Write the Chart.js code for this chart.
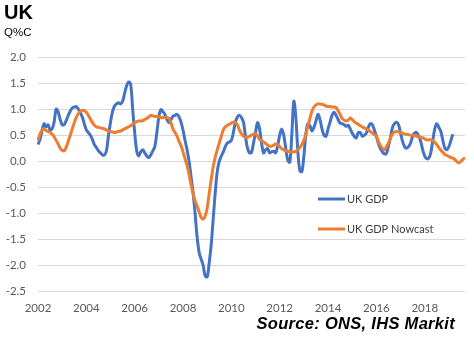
<!DOCTYPE html>
<html>
<head>
<meta charset="utf-8">
<script src="https://cdn.jsdelivr.net/npm/chart.js@4"></script>
<style>
  html, body { margin: 0; padding: 0; background: #fff; }
  #wrap { position: relative; width: 474px; height: 339px; overflow: hidden; }
  canvas { position: absolute; left: 0; top: 0; }
  .t { position: absolute; font-family: "Liberation Sans", Arial, sans-serif; white-space: nowrap; }
  #title { left: 4px; top: 1px; font-size: 20px; font-weight: bold; color: #000; }
  #sub { left: 4px; top: 26px; font-size: 11.5px; color: #000; }
  #src { right: 19px; top: 314px; font-size: 16.5px; font-weight: bold; font-style: italic; color: #000; letter-spacing: 0.3px; }
</style>
</head>
<body>
<div id="wrap">
  <canvas id="c" width="474" height="339"></canvas>
  <div class="t" id="title">UK</div>
  <div class="t" id="sub">Q%C</div>
  <div class="t" id="src">Source: ONS, IHS Markit</div>
</div>
<script>
// Monthly categories Jan 2002 .. Sep 2019
const years = [2002,2003,2004,2005,2006,2007,2008,2009,2010,2011,2012,2013,2014,2015,2016,2017,2018,2019];
const months = ["01","02","03","04","05","06","07","08","09","10","11","12"];
const categories = [];
years.forEach(y => months.forEach(m => { if (!(y === 2019 && +m > 9)) categories.push(y + "-" + m); }));

const yTicks = [2.0, 1.5, 1.0, 0.5, 0.0, -0.5, -1.0, -1.5, -2.0, -2.5];

const seriesNames = ["UK GDP", "UK GDP Nowcast"];

const ukGdp = [
 0.32,0.42,0.58,0.72,0.66,0.70,0.60,0.62,0.75,1.00,0.95,0.80,
 0.70,0.70,0.78,0.88,0.96,1.02,1.04,1.05,1.00,0.93,0.85,0.72,
 0.60,0.55,0.50,0.42,0.32,0.26,0.20,0.16,0.12,0.12,0.20,0.50,
 0.75,0.95,1.06,1.10,1.12,1.10,1.15,1.30,1.45,1.52,1.48,1.00,
 0.55,0.20,0.10,0.18,0.22,0.16,0.10,0.07,0.12,0.20,0.28,0.55,
 0.85,0.99,0.95,0.90,0.80,0.74,0.80,0.86,0.88,0.90,0.85,0.75,
 0.60,0.40,0.22,0.00,-0.30,-0.60,-1.00,-1.45,-1.75,-1.88,-2.00,-2.20,
 -2.22,-1.95,-1.60,-1.10,-0.60,-0.20,0.00,0.10,0.18,0.28,0.35,0.37,
 0.40,0.55,0.75,0.85,0.88,0.84,0.75,0.48,0.25,0.16,0.17,0.35,
 0.55,0.74,0.62,0.35,0.16,0.22,0.24,0.16,0.18,0.19,0.16,0.30,
 0.50,0.62,0.50,0.25,0.02,-0.02,0.50,1.15,0.85,0.20,-0.18,-0.20,
 0.10,0.52,0.72,0.68,0.58,0.65,0.77,0.90,0.80,0.62,0.50,0.48,
 0.62,0.75,0.88,0.94,0.88,0.80,0.73,0.72,0.70,0.67,0.69,0.62,
 0.54,0.48,0.45,0.55,0.55,0.48,0.50,0.54,0.65,0.72,0.70,0.60,
 0.48,0.34,0.24,0.18,0.14,0.15,0.30,0.45,0.65,0.72,0.75,0.70,
 0.54,0.38,0.28,0.25,0.28,0.35,0.48,0.54,0.55,0.48,0.38,0.22,
 0.10,0.05,0.06,0.16,0.40,0.62,0.72,0.65,0.57,0.40,0.25,0.22,
 0.28,0.40,0.52
];

const ukGdpNowcast = [
 0.40,0.52,0.60,0.62,0.59,0.57,0.55,0.52,0.47,0.40,0.33,0.25,
 0.21,0.20,0.27,0.38,0.50,0.62,0.74,0.84,0.91,0.96,0.98,0.97,
 0.94,0.88,0.81,0.74,0.69,0.66,0.65,0.64,0.63,0.62,0.60,0.58,
 0.57,0.56,0.55,0.56,0.57,0.58,0.60,0.62,0.64,0.66,0.68,0.71,
 0.74,0.76,0.77,0.77,0.78,0.80,0.82,0.85,0.88,0.87,0.86,0.86,
 0.85,0.84,0.84,0.84,0.84,0.82,0.74,0.62,0.55,0.48,0.38,0.30,
 0.18,0.05,-0.08,-0.25,-0.45,-0.62,-0.76,-0.86,-0.97,-1.08,-1.11,-1.05,
 -0.90,-0.62,-0.35,-0.10,0.08,0.22,0.35,0.48,0.60,0.66,0.69,0.71,
 0.73,0.75,0.74,0.70,0.60,0.53,0.48,0.46,0.46,0.48,0.50,0.52,
 0.53,0.48,0.42,0.39,0.37,0.34,0.31,0.29,0.29,0.31,0.33,0.32,
 0.28,0.24,0.22,0.20,0.19,0.18,0.18,0.18,0.19,0.22,0.26,0.32,
 0.40,0.52,0.67,0.82,0.96,1.04,1.08,1.10,1.10,1.09,1.08,1.06,
 1.05,1.05,1.04,1.04,1.03,0.97,0.90,0.82,0.79,0.77,0.79,0.83,
 0.80,0.76,0.73,0.71,0.68,0.66,0.64,0.62,0.60,0.57,0.54,0.51,
 0.48,0.38,0.30,0.25,0.22,0.28,0.35,0.45,0.52,0.56,0.57,0.56,
 0.55,0.54,0.52,0.52,0.51,0.50,0.50,0.49,0.48,0.47,0.46,0.45,
 0.43,0.41,0.41,0.41,0.40,0.36,0.32,0.26,0.21,0.17,0.13,0.11,
 0.09,0.07,0.06,0.03,-0.01,-0.03,0.00,0.04,0.07
];

const colors = ["#4472C4", "#ED7D31"];

const legendPlugin = {
  id: 'insideLegend',
  afterDraw(chart) {
    const ctx = chart.ctx;
    const items = [
      { x: 318, y: 199 },
      { x: 318, y: 229 }
    ];
    ctx.save();
    chart.data.datasets.forEach((ds, i) => {
      const p = items[i];
      ctx.strokeStyle = ds.borderColor;
      ctx.lineWidth = 3;
      ctx.beginPath();
      ctx.moveTo(p.x, p.y);
      ctx.lineTo(p.x + 27, p.y);
      ctx.stroke();
      ctx.fillStyle = "#404040";
      ctx.font = "11px Lato, 'Open Sans', sans-serif";
      ctx.textBaseline = "middle";
      ctx.textAlign = "left";
      ctx.fillText(ds.label, p.x + 29, p.y);
    });
    ctx.restore();
  }
};

new Chart(document.getElementById('c'), {
  type: 'line',
  data: {
    labels: categories,
    datasets: [
      { label: seriesNames[0], data: ukGdp, borderColor: colors[0], backgroundColor: colors[0],
        borderWidth: 3, pointRadius: 0, tension: 0.35, order: 1 },
      { label: seriesNames[1], data: ukGdpNowcast, borderColor: colors[1], backgroundColor: colors[1],
        borderWidth: 3, pointRadius: 0, tension: 0.35, order: 0 }
    ]
  },
  options: {
    responsive: false,
    animation: false,
    devicePixelRatio: 1,
    layout: { padding: { top: 57, right: 9, left: 0, bottom: 0 } },
    plugins: { legend: { display: false }, tooltip: { enabled: false }, title: { display: false } },
    scales: {
      x: {
        type: 'category',
        offset: false,
        grid: { display: false, drawTicks: false },
        border: { display: false },
        ticks: {
          autoSkip: false, maxRotation: 0, minRotation: 0, padding: 10,
          color: '#595959', font: { family: "Lato, 'Open Sans', sans-serif", size: 11.5 },
          callback: function(val, idx) {
            const lab = categories[idx];
            return (idx % 24 === 0) ? lab.slice(0, 4) : null;
          }
        },
        afterFit: s => { s.height = 47.5; }
      },
      y: {
        min: -2.5, max: 2.0,
        afterBuildTicks: s => { s.ticks = yTicks.map(v => ({ value: v })); },
        grid: { color: '#d9d9d9', lineWidth: 1, drawTicks: false },
        border: { display: false },
        ticks: {
          padding: 12, color: '#595959', font: { family: "Lato, 'Open Sans', sans-serif", size: 11.5 },
          callback: v => Number(v).toFixed(1)
        },
        afterFit: s => { s.width = 38; }
      }
    }
  },
  plugins: [legendPlugin]
});
</script>
</body>
</html>
